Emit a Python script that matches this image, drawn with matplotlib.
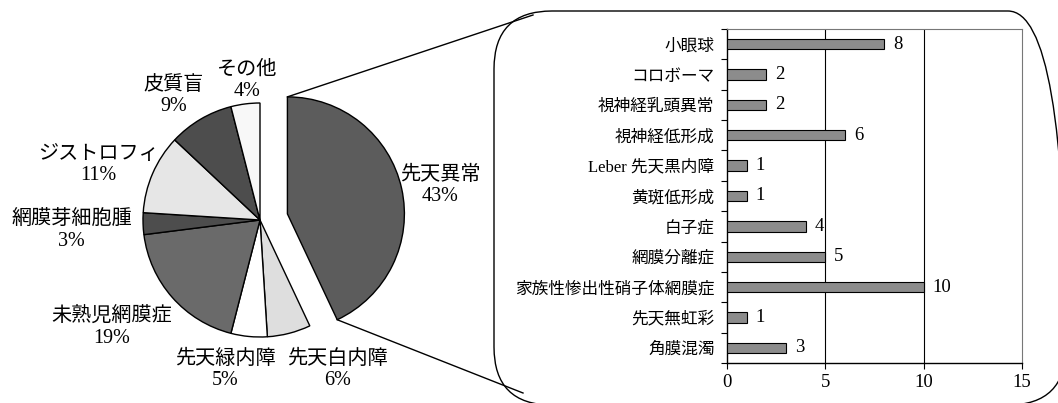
import matplotlib
matplotlib.use('Agg')
import matplotlib.pyplot as plt
import matplotlib.patches as mpatches
from matplotlib.lines import Line2D
from matplotlib.transforms import IdentityTransform
import numpy as np

plt.rcParams['font.family'] = ['Liberation Serif', 'Noto Sans CJK JP', 'DejaVu Sans']

# pie data (clockwise from top)
pie_labels = ['先天異常', '先天白内障', '先天緑内障', '未熟児網膜症',
              '網膜芽細胞腫', 'ジストロフィ', '皮質盲', 'その他']
pie_values = [43, 6, 5, 19, 3, 11, 9, 4]
pie_colors = ['#5c5c5c', '#dedede', '#ffffff', '#6a6a6a',
              '#4d4d4d', '#e6e6e6', '#4d4d4d', '#f8f8f8']

# bar data (top to bottom)
bar_labels = ['小眼球', 'コロボーマ', '視神経乳頭異常', '視神経低形成',
              'Leber 先天黒内障', '黄斑低形成', '白子症', '網膜分離症',
              '家族性惨出性硝子体網膜症', '先天無虹彩', '角膜混濁']
bar_values = [8, 2, 2, 6, 1, 1, 4, 5, 10, 1, 3]
x_ticks = [0, 5, 10, 15]

W, H = 1058, 403
fig = plt.figure(figsize=(W / 100, H / 100), dpi=100)
fig.patch.set_facecolor('white')

# ---- pie ----
cx, cy, R = 260, 183, 117   # pie centre / radius in pixels (from bottom)
axp = fig.add_axes([0, 0, 480 / W, 1])
wedges, _ = axp.pie(pie_values, colors=pie_colors, startangle=90, counterclock=False,
                    explode=[0.24] + [0] * 7,
                    wedgeprops=dict(edgecolor='black', linewidth=1.0))
axp.set_xlim(-cx / R, (480 - cx) / R)
axp.set_ylim(-cy / R, (H - cy) / R)
axp.set_aspect('auto')
axp.axis('off')

# label positions (x, y) in pie radius units
label_pos = [(1.54, 0.29), (0.66, -1.28), (-0.30, -1.28), (-1.27, -0.92),
             (-1.61, -0.09), (-1.38, 0.47), (-0.74, 1.06), (-0.11, 1.19)]
for lab, v, (lx, ly) in zip(pie_labels, pie_values, label_pos):
    axp.text(lx, ly, f'{lab}\n{v}%', ha='center', va='center', fontsize=14.5,
             linespacing=1.15)

# lines from exploded wedge to box
w0 = wedges[0]
wc = np.array(w0.center)
to_fig = axp.transData + fig.transFigure.inverted()
p_top = wc + np.array([np.cos(np.radians(w0.theta2)), np.sin(np.radians(w0.theta2))]) * w0.r
p_bot = wc + np.array([np.cos(np.radians(w0.theta1)), np.sin(np.radians(w0.theta1))]) * w0.r
for p, tgt in [(p_top, (533, H - 15)), (p_bot, (523, H - 393))]:
    fx, fy = to_fig.transform(p)
    fig.add_artist(Line2D([fx, tgt[0] / W], [fy, tgt[1] / H], color='black', lw=1.0,
                          transform=fig.transFigure))

# rounded box
box = mpatches.FancyBboxPatch((494, -2), 1066 - 494, H - 11 + 2,
                              boxstyle='round,pad=0,rounding_size=58',
                              facecolor='none', edgecolor='black', lw=1.0,
                              transform=IdentityTransform())
fig.add_artist(box)

# ---- bars ----
axb = fig.add_axes([727 / W, (H - 363) / H, (1022 - 727) / W, (363 - 29) / H])
y = np.arange(len(bar_values))
axb.barh(y, bar_values, height=0.34, color='#8c8c8c', edgecolor='black', linewidth=0.8,
         zorder=3)
for yi, v in zip(y, bar_values):
    axb.text(v + 0.45, yi, str(v), ha='left', va='center', fontsize=13.5)
axb.set_xlim(0, 15)
axb.set_ylim(len(bar_values) - 0.5, -0.5)
axb.set_yticks(y)
axb.set_yticklabels(bar_labels, fontsize=12)
axb.set_yticks(np.arange(len(bar_values) + 1) - 0.5, minor=True)
axb.tick_params(axis='y', which='major', length=0, pad=9)
axb.tick_params(axis='y', which='minor', length=4, width=0.8, direction='out')
axb.set_xticks(x_ticks)
axb.set_xticklabels([str(t) for t in x_ticks], fontsize=13.5)
axb.tick_params(axis='x', length=4, width=0.8, direction='out', pad=4)
for xv in x_ticks[1:3]:
    axb.axvline(xv, color='black', lw=0.8, zorder=1)
axb.spines['left'].set_linewidth(1.0)
axb.spines['bottom'].set_linewidth(1.0)
for s in ['top', 'right']:
    axb.spines[s].set_color('#777777')
    axb.spines[s].set_linewidth(0.8)

plt.savefig('out.png', dpi=100, facecolor='white')
